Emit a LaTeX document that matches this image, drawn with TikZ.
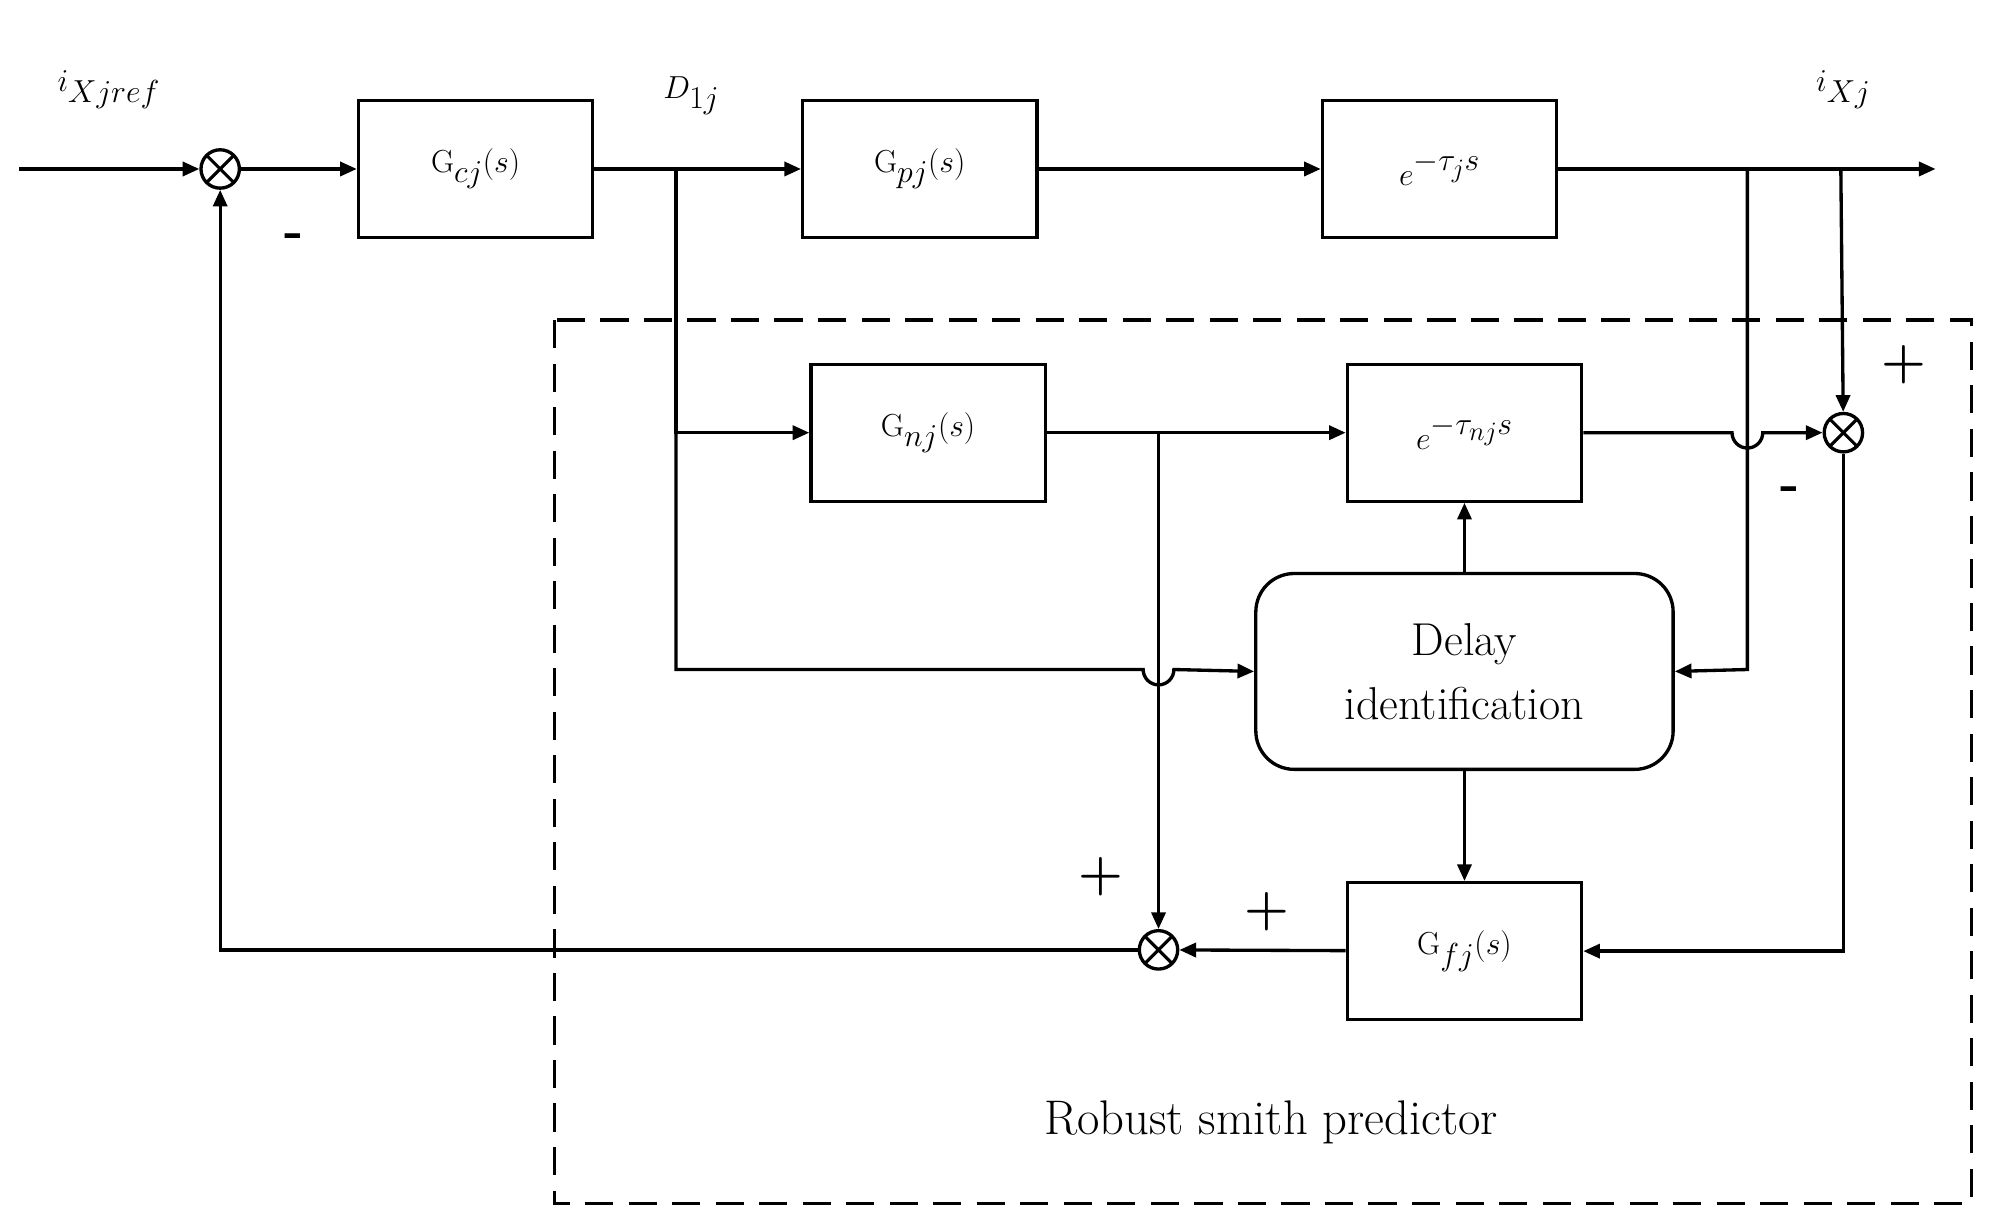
\documentclass[tikz,border=0pt]{standalone}
\usetikzlibrary{arrows.meta}
\begin{document}
\begin{tikzpicture}[x=1pt,y=-1pt,
  line width=2.6pt,
  >={Triangle[length=13pt,width=11pt]},
  blk/.style={draw,minimum width=183pt,minimum height=107pt,inner sep=0pt,font=\fontsize{44}{48}\selectfont},
  sum/.style={draw,circle,minimum size=30pt,inner sep=0pt,path picture={\draw[line width=2.4pt] (path picture bounding box.north west)--(path picture bounding box.south east) (path picture bounding box.north east)--(path picture bounding box.south west);}},
  lab/.style={font=\fontsize{44}{48}\selectfont},
  sgn/.style={font=\bfseries\fontsize{40}{44}\selectfont}]
\useasboundingbox (0,0) rectangle (1560,958);
\node[sum] (s1) at (172,132) {};
\node[blk] (gc) at (371.5,132) {$\mathrm{G}_{cj}(s)$};
\node[blk] (gp) at (718.5,132) {$\mathrm{G}_{pj}(s)$};
\node[blk] (ed) at (1124.5,132) {$e^{\raisebox{0pt}{$\scriptstyle -\tau_j s$}}$};
\node[blk] (gn) at (725,338) {$\mathrm{G}_{nj}(s)$};
\node[blk] (en) at (1144,338) {$e^{-\tau_{nj} s}$};
\node[draw,rounded corners=30pt,minimum width=326pt,minimum height=153pt,align=center,font=\fontsize{36}{50}\selectfont] (di) at (1144,524.5) {Delay\\identification};
\node[blk] (gf) at (1144,743) {$\mathrm{G}_{fj}(s)$};
\node[sum] (s2) at (1440,338) {};
\node[sum] (s3) at (905,742) {};
\coordinate (in) at (15,132);
\coordinate (out) at (1512,132);
\coordinate (b1) at (528,132);
\coordinate (b2) at (1365,132);
\coordinate (b3) at (1438,132);
\coordinate (b4) at (905,338);
% dashed box
\draw[dashed,dash pattern=on 22pt off 12pt] (433,250) rectangle (1540,940);
% main path
\draw[->] (in) -- (s1);
\draw[->] (s1) -- (gc);
\draw[->] (gc) -- (gp);
\draw[->] (gp) -- (ed);
\draw[->] (ed) -- (out);
% branches
\draw[->] (b1) |- (gn);
\draw[->] (b1) -- (528,523) -- (893,523) arc (180:0:12) -- (di.west);
\draw[->] (b2) -- (1365,523) -- (di.east);
\draw[->] (b3) -- (s2);
\draw[->] (gn) -- (en);
\draw[->] (en.east) -- (1353,338) arc (180:0:12) -- (s2);
\draw[->] (b4) -- (s3);
\draw[->] (di) -- (en);
\draw[->] (di) -- (gf);
\draw[->] (s2) |- (gf);
\draw[->] (gf) -- (s3);
\draw[->] (s3) -| (s1);
% labels
\node[lab] at (85,70) {$i_{Xjref}$};
\node[lab] at (540,75) {$D_{1j}$};
\node[lab] at (1440,70) {$i_{Xj}$};
\node[sgn] at (230,188) {-};
\node[sgn] at (1487,285) {+};
\node[sgn] at (1398,386) {-};
\node[sgn] at (860,685) {+};
\node[sgn] at (990,712) {+};
\node[font=\fontsize{38}{44}\selectfont] at (993,877) {Robust smith predictor};
\end{tikzpicture}
\end{document}
